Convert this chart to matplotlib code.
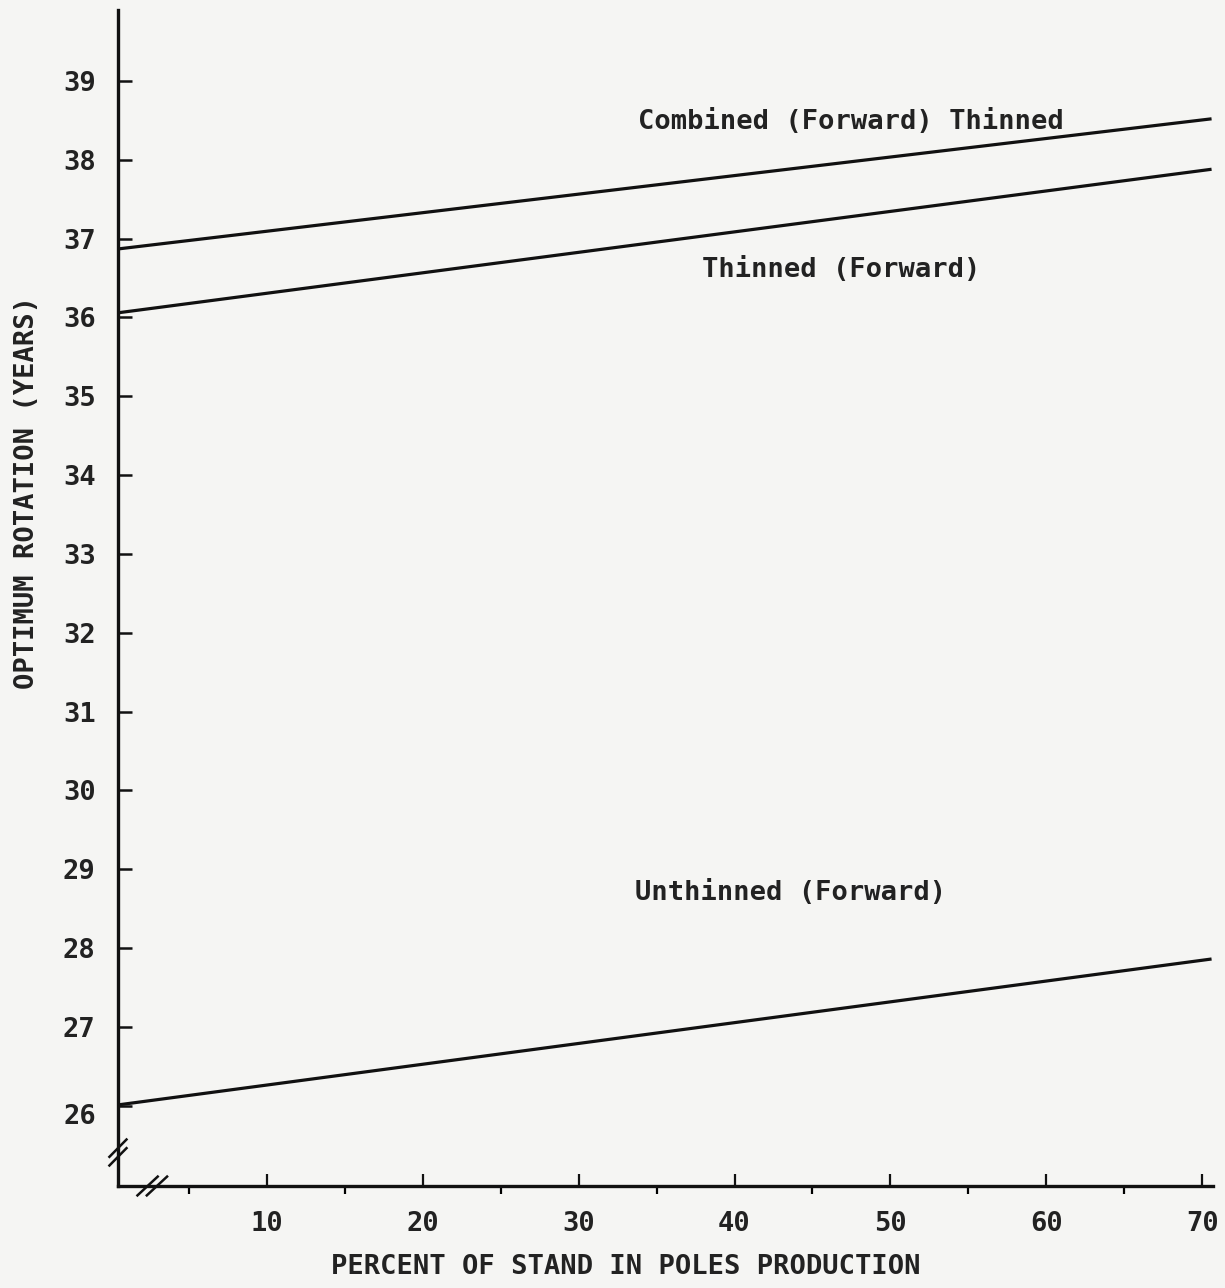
import matplotlib.pyplot as plt
import numpy as np

# Data
pct = [0.5, 70.6]
combined = [36.87, 38.52]
thinned = [36.06, 37.88]
unthinned = [26.01, 27.86]

x_ticks = [10, 20, 30, 40, 50, 60, 70]
y_ticks = [26, 27, 28, 29, 30, 31, 32, 33, 34, 35, 36, 37, 38, 39]

plt.rcParams['font.family'] = ['DejaVu Sans Mono']
plt.rcParams['font.weight'] = 'bold'
plt.rcParams['axes.labelweight'] = 'bold'

paper = '#f5f5f3'
ink = '#222222'
fig = plt.figure(figsize=(12.25, 12.88), dpi=100, facecolor=paper)
ax = fig.add_axes([0.0963, 0.0792, 0.894, 0.913])
ax.set_facecolor(paper)

for ys in (combined, thinned, unthinned):
    ax.plot(pct, ys, color='#111111', lw=2.3, solid_capstyle='butt')

ax.set_xlim(0.45, 70.7)
ax.set_ylim(24.98, 39.9)

ax.spines['top'].set_visible(False)
ax.spines['right'].set_visible(False)
for s in ('left', 'bottom'):
    ax.spines[s].set_linewidth(2.4)
    ax.spines[s].set_color('#111111')

ax.set_xticks(x_ticks)
ax.set_xticks([5, 15, 25, 35, 45, 55, 65], minor=True)
ax.set_yticks(y_ticks)
ax.set_yticklabels([str(v) if v != 26 else '' for v in y_ticks])
ax.tick_params(axis='both', direction='in', color='#111111', labelsize=19.5,
               labelcolor=ink)
ax.tick_params(axis='x', which='major', length=9, width=1.6, pad=18)
ax.tick_params(axis='x', which='minor', length=6, width=1.6)
ax.tick_params(axis='y', which='major', length=10, width=1.8, pad=16)
# 26 sits a little lower in the original
ax.text(-0.02, 25.86, '26', transform=ax.get_yaxis_transform(), ha='right',
        va='center', fontsize=19.5, color=ink)

ax.set_xlabel('PERCENT OF STAND IN POLES PRODUCTION', fontsize=19.5, color=ink)
ax.xaxis.set_label_coords(0.464, -0.058)
ax.set_ylabel('OPTIMUM ROTATION (YEARS)', fontsize=19.5, color=ink)
ax.yaxis.set_label_coords(-0.071, 0.59)

ax.text(33.8, 38.48, 'Combined (Forward) Thinned', fontsize=19.5, va='center',
        color=ink)
ax.text(37.9, 36.6, 'Thinned (Forward)', fontsize=19.5, va='center',
        color=ink)
ax.text(33.6, 28.7, 'Unthinned (Forward)', fontsize=19.5, va='center',
        color=ink)

# axis break marks
for dy in (0.0, 0.11):
    ax.plot([-0.0078, 0.0078], [25.24 + dy, 25.46 + dy], color='#111111', lw=1.8,
            transform=ax.get_yaxis_transform(), clip_on=False)
for dx in (0.0, 0.6):
    ax.plot([1.7 + dx, 3.0 + dx], [-0.008, 0.008], color='#111111', lw=1.8,
            transform=ax.get_xaxis_transform(), clip_on=False)

fig.savefig('out.png', dpi=100, facecolor=paper)
